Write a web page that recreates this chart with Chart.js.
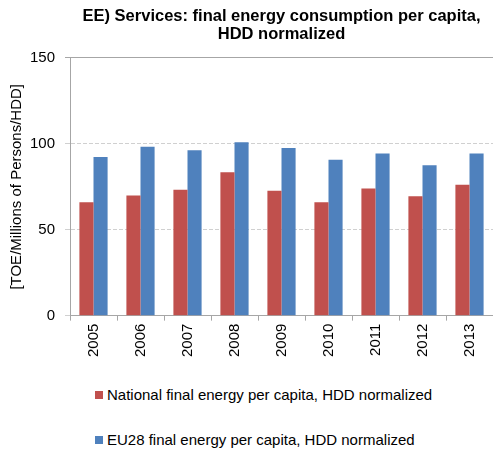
<!DOCTYPE html>
<html>
<head>
<meta charset="utf-8">
<script src="https://cdn.jsdelivr.net/npm/chart.js@4.4.0/dist/chart.umd.min.js"></script>
<style>
    body { margin: 0; background: #fff; font-family: 'Liberation Sans', Arial, sans-serif; }
    #wrap { position: relative; width: 493px; height: 451px; }
    #chart-box { position: absolute; left: 0; top: 0; width: 493px; height: 360px; }
    .legend-item { position: absolute; left: 95px; font-size: 15px; color: #000; white-space: nowrap; line-height: 17px; }
    .legend-item span { display: inline-block; width: 8px; height: 8px; margin-right: 4px; vertical-align: 1px; }
</style>
</head>
<body>
<div id="wrap">
    <div id="chart-box"><canvas id="grafico"></canvas></div>
    <div class="legend-item" style="top: 386px;"><span style="background:#C0504D"></span>National final energy per capita, HDD normalized</div>
    <div class="legend-item" style="top: 431px;"><span style="background:#4F81BD"></span>EU28 final energy per capita, HDD normalized</div>
</div>
<script>
const anos = ['2005', '2006', '2007', '2008', '2009', '2010', '2011', '2012', '2013'];
const nacional = [66, 70, 73.3, 83.5, 72.7, 66, 74, 69.5, 76.2];
const eu28 = [92.3, 98.3, 96.3, 101, 97.6, 90.8, 94.4, 87.5, 94.4];
const yTicks = [0, 50, 100, 150];

const fonte = { family: "'Liberation Sans', Arial, sans-serif", size: 15 };

const ctx = document.getElementById('grafico').getContext('2d');

new Chart(ctx, {
    type: 'bar',
    data: {
        labels: anos,
        datasets: [{
            label: 'National final energy per capita, HDD normalized',
            data: nacional,
            backgroundColor: '#C0504D',
            categoryPercentage: 0.6,
            barPercentage: 1.0
        }, {
            label: 'EU28 final energy per capita, HDD normalized',
            data: eu28,
            backgroundColor: '#4F81BD',
            categoryPercentage: 0.6,
            barPercentage: 1.0
        }]
    },
    options: {
        responsive: true,
        maintainAspectRatio: false,
        animation: false,
        layout: { padding: { left: 8, right: 0, top: 0, bottom: 0 } },
        plugins: {
            legend: { display: false },
            tooltip: { enabled: false },
            title: {
                display: true,
                fullSize: false,
                text: ['EE) Services: final energy consumption per capita,', 'HDD normalized'],
                color: '#000',
                font: { family: fonte.family, size: 16.5, weight: 'bold', lineHeight: 1.12 },
                padding: { top: 7, bottom: 14 }
            }
        },
        scales: {
            x: {
                offset: true,
                grid: {
                    offset: true,
                    drawOnChartArea: false,
                    drawTicks: true,
                    tickLength: 5,
                    color: '#A6A6A6'
                },
                border: { color: '#A6A6A6', width: 1 },
                ticks: {
                    color: '#000',
                    font: fonte,
                    minRotation: 90,
                    maxRotation: 90,
                    padding: 3
                }
            },
            y: {
                min: 0,
                max: 150,
                afterBuildTicks: (axis) => { axis.ticks = yTicks.map(v => ({ value: v })); },
                afterFit: (axis) => { axis.width = 62; }, // ancho fijo del eje
                grid: {
                    color: (c) => c.tick && c.tick.value === 150 ? '#A6A6A6' : '#D0D0D0',
                    tickLength: 5,
                    drawTicks: true
                },
                border: {
                    color: '#A6A6A6',
                    width: 1,
                    dash: (c) => c.tick && (c.tick.value === 150 || c.tick.value === 0) ? [] : [4, 2]
                },
                ticks: {
                    color: '#000',
                    font: fonte,
                    padding: 10
                },
                title: {
                    display: true,
                    text: '[TOE/Millions of Persons/HDD]',
                    color: '#000',
                    font: fonte,
                    padding: { top: 0, bottom: 4 }
                }
            }
        }
    }
});
</script>
</body>
</html>
